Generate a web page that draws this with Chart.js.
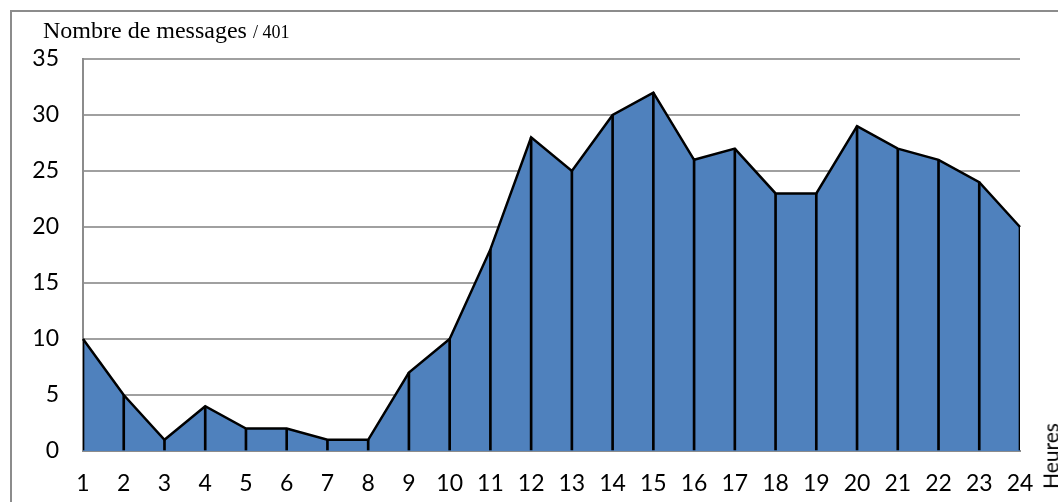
<!DOCTYPE html>
<html><head><meta charset="utf-8">
<script src="https://cdn.jsdelivr.net/npm/chart.js@4"></script>
<style>
html,body{margin:0;padding:0;background:#fff;}
#wrap{position:relative;width:1058px;height:502px;overflow:hidden;}
#frame{position:absolute;left:10px;top:10px;width:1100px;height:600px;border-top:2px solid #8c8c8c;border-left:2px solid #8c8c8c;}
#title{position:absolute;left:43px;top:18px;line-height:24px;font-family:"Liberation Serif","Times New Roman",serif;font-size:24px;color:#000;white-space:nowrap;}
#title span{font-size:18px;}
#xt{position:absolute;left:1050px;top:456px;font-family:Lato,"Open Sans",sans-serif;font-size:21px;color:#000;transform:translate(-50%,-50%) rotate(-90deg);white-space:nowrap;}
canvas{position:absolute;left:0;top:0;}
</style></head>
<body><div id="wrap">
<div id="frame"></div>
<canvas id="c" width="1058" height="502"></canvas>
<div id="title">Nombre de messages <span>/ 401</span></div>
<div id="xt">Heures</div>
</div>
<script>
const hours = ["1","2","3","4","5","6","7","8","9","10","11","12","13","14","15","16","17","18","19","20","21","22","23","24"];
const messages = [10,5,1,4,2,2,1,1,7,10,18,28,25,30,32,26,27,23,23,29,27,26,24,20];
const yTicks = [0,5,10,15,20,25,30,35];

new Chart(document.getElementById('c'), {
  data: {
    labels: hours,
    datasets: [
      {type:'bar', data: messages, backgroundColor:'#000', barThickness:2, order:0},
      {type:'line', data: messages, fill:'origin', backgroundColor:'#4F81BD', borderColor:'#000', borderWidth:2.5, pointRadius:0, tension:0, order:1}
    ]
  },
  options: {
    responsive:false, animation:false,
    layout:{padding:{top:59,right:38,left:0,bottom:0}},
    plugins:{legend:{display:false}, tooltip:{enabled:false}},
    scales:{
      x:{type:'category', offset:false,
         grid:{display:false, drawTicks:false, offset:false},
         border:{display:true,color:'#8c8c8c',width:2},
         ticks:{font:{family:'Lato',size:23},color:'#000',padding:19,maxRotation:0,autoSkip:false},
         afterFit:(s)=>{s.height=51;}
      },
      y:{min:0,max:35,
         afterBuildTicks:(s)=>{s.ticks=yTicks.map(v=>({value:v}));},
         grid:{color:'#a0a0a0',lineWidth:2,drawTicks:false},
         border:{display:true,color:'#8c8c8c',width:2},
         ticks:{font:{family:'Lato',size:23},color:'#000',padding:24},
         afterFit:(s)=>{s.width=83;}
      }
    }
  }
});
</script>
</body></html>
